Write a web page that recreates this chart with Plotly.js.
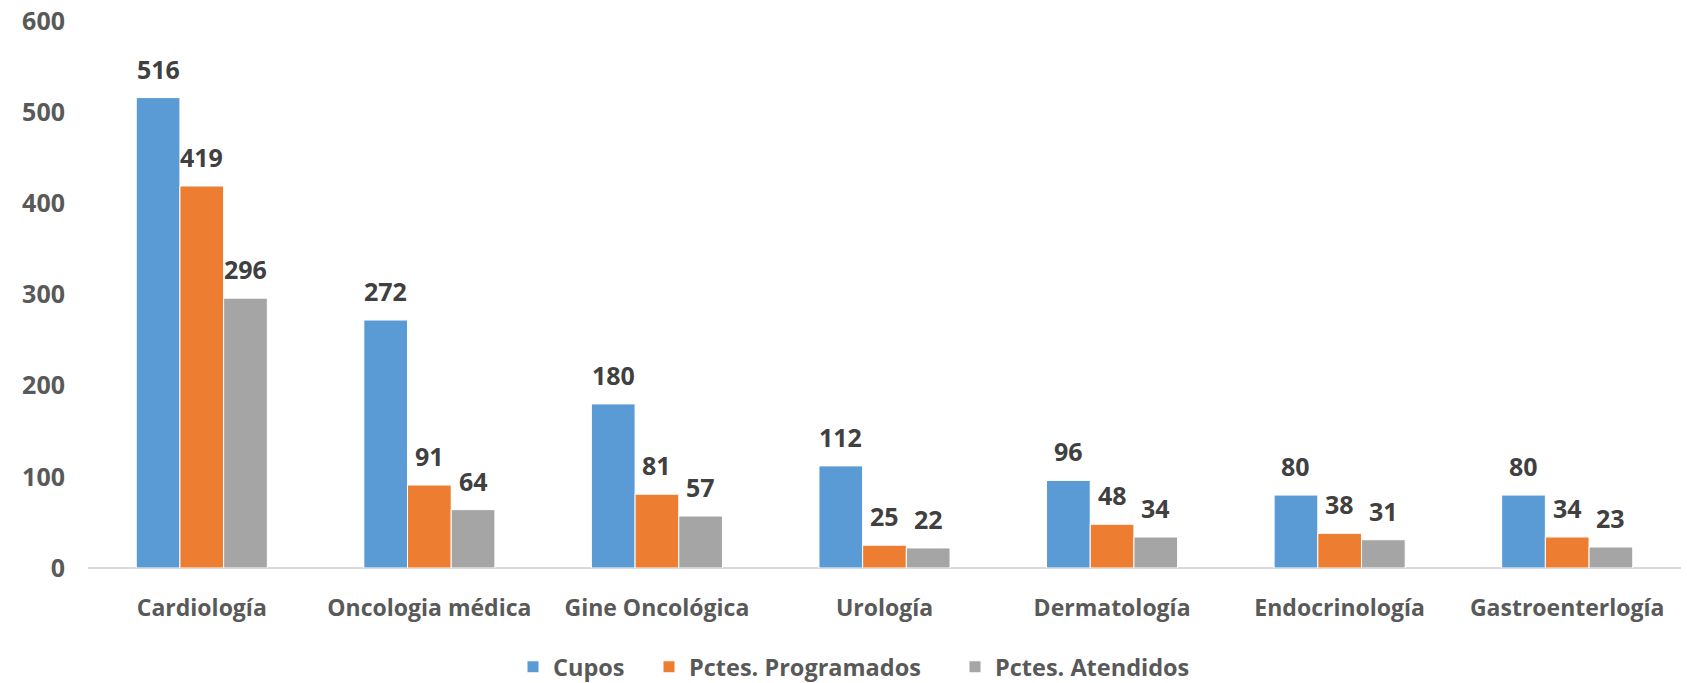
<!DOCTYPE html>
<html>
<head>
<meta charset="utf-8">
<script src="https://cdn.plot.ly/plotly-3.0.1.min.js"></script>
<style>html,body{margin:0;padding:0;background:#fff;}#chart{width:1696px;height:683px;}</style>
</head>
<body>
<div id="chart"></div>
<script>
const categories = ["Cardiología", "Oncologia médica", "Gine Oncológica", "Urología", "Dermatología", "Endocrinología", "Gastroenterlogía"];
const cupos = [516, 272, 180, 112, 96, 80, 80];
const programados = [419, 91, 81, 25, 48, 38, 34];
const atendidos = [296, 64, 57, 22, 34, 31, 23];
const seriesNames = ["Cupos", "Pctes. Programados", "Pctes. Atendidos"];
const seriesColors = ["#5B9BD5", "#ED7D31", "#A5A5A5"];
const yTicks = [0, 100, 200, 300, 400, 500, 600];

const W = 1696, H = 683;
const margin = {l: 88, r: 15, t: 21, b: 115, pad: 0, autoexpand: false};
const bargap = 0.424;
const plotW = W - margin.l - margin.r;
const barPx = plotW / categories.length * (1 - bargap) / 3;
const legendIds = ['legend', 'legend2', 'legend3'];
const legendLeftPx = [513, 649, 955];

const allSeries = [cupos, programados, atendidos];
const traces = allSeries.map((vals, i) => ({
  type: 'bar', name: seriesNames[i], x: categories, y: vals,
  legend: legendIds[i],
  marker: {color: seriesColors[i], line: {color: '#ffffff', width: 1}},
  hoverinfo: 'none'
}));

const annotations = [];
allSeries.forEach((vals, i) => {
  vals.forEach((v, k) => {
    annotations.push({
      x: categories[k], y: v, xref: 'x', yref: 'y', text: String(v),
      showarrow: false, yanchor: 'bottom', xanchor: 'center',
      xshift: (i - 1) * barPx, yshift: 10,
      font: {family: 'Open Sans', size: 25, color: '#404040', weight: 'bold'}
    });
  });
});

const legendFont = {family: 'Open Sans', size: 23.5, color: '#595959', weight: 'bold'};

const layout = {
  width: W, height: H, margin: margin,
  paper_bgcolor: '#ffffff', plot_bgcolor: '#ffffff',
  barmode: 'group', bargap: bargap, bargroupgap: 0,
  showlegend: true,
  xaxis: {type: 'category', showgrid: false, zeroline: false, showline: false, ticks: '',
    tickfont: {family: 'Open Sans', size: 23, color: '#595959', weight: 'bold'},
    ticklabelstandoff: 24},
  yaxis: {range: [0, 600], tickvals: yTicks, ticktext: yTicks.map(String), showgrid: false,
    zeroline: true, zerolinecolor: '#d9d9d9', zerolinewidth: 2, showline: false, ticks: '',
    tickfont: {family: 'Open Sans', size: 25, color: '#595959', weight: 'bold'},
    ticklabelstandoff: 22},
  annotations: annotations
};
legendIds.forEach((id, i) => {
  layout[id] = {orientation: 'h', x: (legendLeftPx[i] - margin.l) / plotW, xanchor: 'left',
    y: -0.181, yanchor: 'middle', font: legendFont, itemwidth: 30, bgcolor: 'rgba(0,0,0,0)'};
});

Plotly.newPlot('chart', traces, layout, {displayModeBar: false, staticPlot: true});
</script>
</body>
</html>
